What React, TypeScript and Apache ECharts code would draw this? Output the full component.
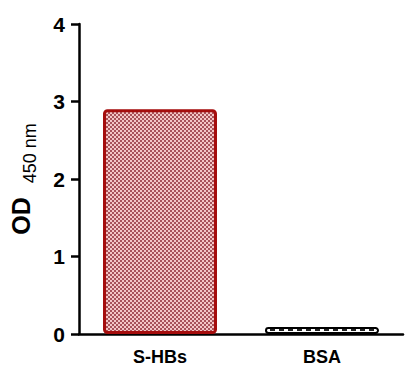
import React, { useEffect, useRef } from "react";
import * as echarts from "echarts";

const categories = ["S-HBs", "BSA"];
const values = [2.9, 0.09];
const yTicks = [0, 1, 2, 3, 4];

function makeChecker(dark: string, light: string, size: number) {
  const c = document.createElement("canvas");
  c.width = size * 2;
  c.height = size * 2;
  const ctx = c.getContext("2d")!;
  ctx.fillStyle = light;
  ctx.fillRect(0, 0, size * 2, size * 2);
  ctx.fillStyle = dark;
  ctx.fillRect(0, 0, size, size);
  ctx.fillRect(size, size, size, size);
  return c;
}

function makeDash() {
  const c = document.createElement("canvas");
  c.width = 9;
  c.height = 4;
  const ctx = c.getContext("2d")!;
  ctx.fillStyle = "#ffffff";
  ctx.fillRect(0, 0, 9, 4);
  ctx.fillStyle = "#222222";
  ctx.fillRect(0, 1, 5, 2);
  return c;
}

const FONT = "Liberation Sans, Arial, sans-serif";

export default function App() {
  const ref = useRef<HTMLDivElement>(null);
  useEffect(() => {
    if (!ref.current) return;
    const chart = echarts.init(ref.current, null, { renderer: "svg" });
    const redPat = makeChecker("#a8525a", "#f4c6c6", 2);
    const dashPat = makeDash();
    chart.setOption({
      animation: false,
      grid: { left: 72, right: 3, top: 24, bottom: 36 },
      xAxis: {
        type: "category",
        data: categories,
        axisLine: { lineStyle: { color: "#000", width: 2.5 } },
        axisTick: { alignWithLabel: true, length: 8, lineStyle: { color: "#000", width: 2.5 } },
        axisLabel: {
          color: "#000",
          fontWeight: "bold",
          fontSize: 18,
          fontFamily: FONT,
          margin: 14,
        },
      },
      yAxis: {
        type: "value",
        min: yTicks[0],
        max: yTicks[yTicks.length - 1],
        interval: 1,
        splitLine: { show: false },
        axisLine: { show: true, lineStyle: { color: "#000", width: 2.5 } },
        axisTick: { show: true, length: 8, lineStyle: { color: "#000", width: 2.5 } },
        axisLabel: {
          color: "#000",
          fontWeight: "bold",
          fontSize: 21,
          fontFamily: FONT,
          margin: 14,
        },
        name: "{a|OD}{b|450 nm}",
        nameLocation: "middle",
        nameGap: 46,
        nameRotate: 90,
        nameTextStyle: {
          rich: {
            a: {
              fontSize: 25,
              fontWeight: "bold",
              color: "#000",
              fontFamily: FONT,
              verticalAlign: "bottom",
              padding: [0, 14, 0, 0],
            },
            b: {
              fontSize: 18,
              color: "#000",
              fontFamily: FONT,
              verticalAlign: "bottom",
              padding: [0, 0, -6, 0],
            },
          },
        },
      },
      series: [
        {
          type: "bar",
          barWidth: 114,
          data: [
            {
              value: values[0],
              itemStyle: {
                color: { image: redPat, repeat: "repeat" },
                borderColor: "#a50d0d",
                borderWidth: 3,
                borderRadius: 3,
              },
            },
            {
              value: values[1],
              itemStyle: {
                color: { image: dashPat, repeat: "repeat" },
                borderColor: "#000",
                borderWidth: 2,
                borderRadius: 3,
              },
            },
          ],
        },
      ],
    });
    return () => chart.dispose();
  }, []);
  return (
    <div
      ref={ref}
      style={{ position: "fixed", left: 0, top: 0, width: 406, height: 370, background: "#fff" }}
    />
  );
}
